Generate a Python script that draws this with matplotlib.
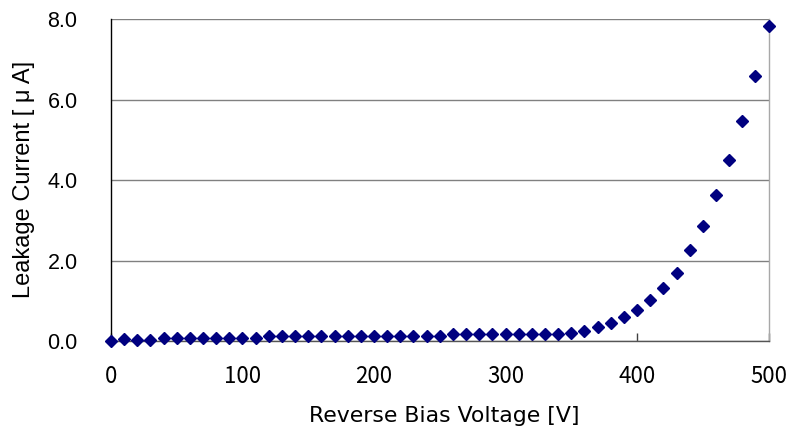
import matplotlib
matplotlib.use("Agg")
import matplotlib.pyplot as plt

# Reverse bias sweep, 0-500 V in 10 V steps
voltage = list(range(0, 501, 10))
current = [
    0.00, 0.04, 0.03, 0.03, 0.08, 0.08, 0.08, 0.08, 0.08, 0.08,
    0.08, 0.07, 0.13, 0.13, 0.13, 0.12, 0.13, 0.13, 0.12, 0.12,
    0.12, 0.12, 0.12, 0.12, 0.12, 0.13, 0.17, 0.17, 0.17, 0.17,
    0.17, 0.17, 0.17, 0.17, 0.18, 0.20, 0.25, 0.34, 0.46, 0.60,
    0.76, 1.02, 1.33, 1.70, 2.26, 2.86, 3.64, 4.49, 5.48, 6.59,
    7.84,
]
x_ticks = [0, 100, 200, 300, 400, 500]
y_ticks = [0.0, 2.0, 4.0, 6.0, 8.0]

fig = plt.figure(figsize=(7.92, 4.29), dpi=100)
ax = fig.add_axes([0.140, 0.205, 0.8305, 0.750])

ax.plot(voltage, current, linestyle="none", marker="D", markersize=6.3,
        color="#000080", clip_on=False, zorder=3)

ax.set_xlim(0, 500)
ax.set_ylim(0, 8)
ax.set_xticks(x_ticks)
ax.set_yticks(y_ticks)
ax.set_xticklabels([str(v) for v in x_ticks], family="Noto Sans CJK JP", fontsize=16)
ax.set_yticklabels([f"{v:.1f}" for v in y_ticks], family="Liberation Sans", fontsize=15.5)

ax.yaxis.grid(True, color="#808080", linewidth=1.0)
ax.set_axisbelow(True)

ax.tick_params(axis="x", direction="in", length=6, width=1, color="#404040", pad=17)
ax.tick_params(axis="y", length=0, pad=24)

ax.spines["left"].set_color("black")
ax.spines["bottom"].set_color("#555555")
ax.spines["top"].set_visible(False)
ax.spines["right"].set_color("#a8a8a8")
for s in ax.spines.values():
    s.set_linewidth(1.0)

# axis titles placed by hand so they sit where the reference has them
fig.text(444 / 792, 1 - 422 / 429, "Reverse Bias Voltage [V]", family="DejaVu Sans",
         fontsize=15.8, ha="center", va="baseline")
fig.text(24 / 792, 1 - 179 / 429, "Leakage Current [ μ A]", family="Liberation Sans",
         fontsize=17, rotation=90, ha="center", va="center")

fig.savefig("out.png", dpi=100)
